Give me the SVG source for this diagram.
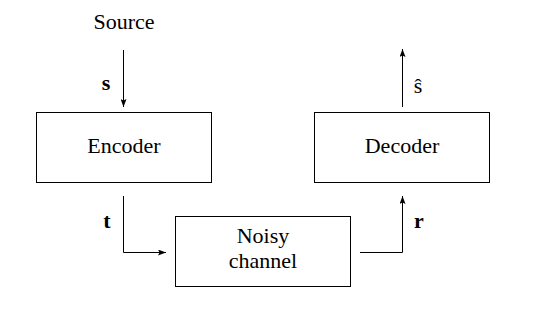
<svg xmlns="http://www.w3.org/2000/svg" width="540" height="322" viewBox="0 0 540 322">
  <style>
    .box { fill: #fff; stroke: #000; stroke-width: 1; }
    text { font-family: 'Liberation Serif', 'DejaVu Serif', serif; font-size: 22px; fill: #000; text-anchor: middle; }
    .var { font-weight: bold; }
    .wire { fill: none; stroke: #000; stroke-width: 1; marker-end: url(#tip); }
  </style>
  <defs>
    <marker id="tip" viewBox="0 0 8 6" refX="8" refY="3" markerWidth="8" markerHeight="6" markerUnits="userSpaceOnUse" orient="auto">
      <path d="M0,0 L8,3 L0,6 L1.5,3 z" fill="#000"/>
    </marker>
  </defs>
  <rect width="540" height="322" fill="#fff"/>

  <g id="source">
    <text x="124" y="29">Source</text>
  </g>
  <g id="encoder">
    <rect class="box" x="36.5" y="112.5" width="175" height="70"/>
    <text x="124" y="153">Encoder</text>
  </g>
  <g id="decoder">
    <rect class="box" x="314.5" y="112.5" width="175" height="70"/>
    <text x="402" y="153">Decoder</text>
  </g>
  <g id="channel">
    <rect class="box" x="175.5" y="216.5" width="175" height="70"/>
    <text x="263" y="243">Noisy</text>
    <text x="263" y="268">channel</text>
  </g>

  <g id="connectors">
    <path class="wire" d="M123.5,50 V107"/>
    <path class="wire" d="M123.5,196 V252.5 H166"/>
    <path class="wire" d="M360,252.5 H402.5 V196"/>
    <path class="wire" d="M402.5,107 V49"/>
    <text class="var" x="106" y="90">s</text>
    <text class="var" x="107" y="228">t</text>
    <text class="var" x="419" y="228">r</text>
    <text x="418" y="93">ŝ</text>
  </g>
</svg>
